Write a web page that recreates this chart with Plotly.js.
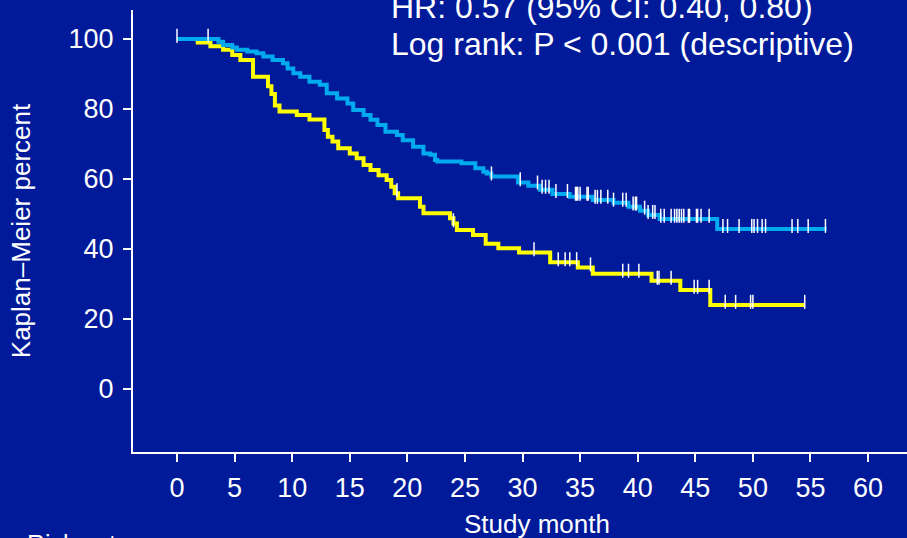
<!DOCTYPE html>
<html>
<head>
<meta charset="utf-8">
<script src="https://cdn.plot.ly/plotly-3.0.1.min.js"></script>
<style>
  html, body { margin: 0; padding: 0; background: #001a9a; }
  #chart { width: 907px; height: 538px; }
</style>
</head>
<body>
<div id="chart"></div>
<script>
// ---- Data ----
const yellowTimes = [0, 1.8, 2.9, 4.0, 4.8, 5.5, 6.6, 7.9, 8.2, 8.5, 8.9, 10.4, 11.5, 12.8, 13.1, 13.5, 14.0, 15.0, 15.6, 16.2, 16.8, 17.5, 18.2, 18.6, 18.9, 19.2, 21.1, 21.4, 23.7, 24.0, 24.3, 25.7, 26.8, 27.9, 29.7, 32.4, 34.8, 36.1, 41.2, 43.7, 46.3, 54.5];
const yellowSurv  = [100, 99.0, 97.9, 96.9, 95.4, 94.0, 89.2, 86.5, 84.3, 81.0, 79.3, 78.3, 77.0, 74.0, 72.1, 70.7, 68.8, 67.3, 65.9, 64.0, 62.6, 61.1, 59.7, 57.8, 55.9, 54.5, 52.1, 50.2, 48.8, 47.3, 45.4, 44.0, 41.5, 40.2, 39.0, 36.2, 34.7, 32.9, 30.9, 28.3, 24.0, 24.0];
const yellowCensor = [19.1, 24.0, 31.0, 33.1, 33.7, 34.1, 34.7, 35.9, 38.7, 39.2, 40.1, 41.7, 41.85, 42.9, 44.9, 45.2, 46.2, 47.6, 48.5, 49.8, 50.0, 54.5];

const blueTimes = [0, 3.6, 4.0, 4.8, 5.2, 6.1, 6.9, 7.5, 8.3, 9.2, 9.6, 10.1, 10.7, 11.5, 12.4, 13.0, 13.9, 14.8, 15.3, 16.2, 16.8, 17.4, 18.1, 19.1, 19.6, 20.5, 21.4, 22.0, 22.4, 22.6, 24.7, 25.9, 26.6, 26.9, 27.3, 29.6, 30.5, 31.5, 32.6, 34.1, 36.1, 37.9, 39.2, 40.2, 40.9, 41.9, 46.9, 56.4];
const blueSurv  = [100, 99.2, 98.3, 97.6, 96.9, 96.4, 95.9, 95.0, 94.0, 93.1, 91.6, 90.2, 89.2, 87.8, 86.9, 84.5, 83.0, 81.6, 79.7, 78.3, 76.9, 75.4, 73.5, 72.6, 71.1, 69.2, 67.3, 66.9, 65.4, 65.0, 64.5, 63.1, 62.1, 61.6, 60.7, 59.0, 58.1, 56.9, 55.7, 54.9, 54.0, 53.2, 52.1, 50.9, 49.7, 48.6, 45.7, 45.7];
const blueCensor = [0, 2.7, 27.3, 29.8, 31.3, 31.7, 32.0, 32.3, 32.9, 33.9, 34.6, 34.7, 34.8, 35.0, 35.6, 35.7, 36.3, 36.5, 36.8, 37.4, 37.9, 38.7, 39.0, 39.6, 39.8, 39.9, 40.6, 40.9, 41.3, 41.5, 42.0, 42.3, 42.9, 43.2, 43.4, 43.6, 43.8, 44.0, 44.4, 44.5, 45.1, 45.2, 45.5, 46.2, 47.4, 47.8, 48.8, 49.9, 50.1, 50.4, 50.8, 51.1, 53.4, 53.9, 54.8, 56.3];

const xTickVals = [0, 5, 10, 15, 20, 25, 30, 35, 40, 45, 50, 55, 60];
const yTickVals = [0, 20, 40, 60, 80, 100];

const hrText = "HR: 0.57 (95% CI: 0.40, 0.80)";
const logRankText = "Log rank: P < 0.001 (descriptive)";
const xTitle = "Study month";
const yTitle = "Kaplan\u2013Meier percent";
const riskSetText = "Risk set";

// ---- helpers ----
function stepValue(times, surv, t) {
  let v = surv[0];
  for (let i = 0; i < times.length; i++) {
    if (times[i] <= t) v = surv[i]; else break;
  }
  return v;
}
const tickLift = 0.9; // small lift so censor ticks sit on top of the line
function censorY(times, surv, cens) {
  return cens.map(t => stepValue(times, surv, t) + tickLift);
}

const FONT = "Liberation Sans, Arial, sans-serif";
const BG = "#001a9a";
const YELLOW = "#ffff00";
const BLUE = "#00aaee";

const traces = [
  { x: yellowTimes, y: yellowSurv, mode: "lines", line: { shape: "hv", color: YELLOW, width: 4 }, hoverinfo: "skip" },
  { x: blueTimes, y: blueSurv, mode: "lines", line: { shape: "hv", color: BLUE, width: 4 }, hoverinfo: "skip" },
  { x: yellowCensor, y: censorY(yellowTimes, yellowSurv, yellowCensor), mode: "markers",
    marker: { symbol: "line-ns-open", size: 10, color: "#ffffff", line: { color: "#ffffff", width: 1.5 } }, hoverinfo: "skip" },
  { x: blueCensor, y: censorY(blueTimes, blueSurv, blueCensor), mode: "markers",
    marker: { symbol: "line-ns-open", size: 10, color: "#ffffff", line: { color: "#ffffff", width: 1.5 } }, hoverinfo: "skip" }
];

const layout = {
  width: 907, height: 538,
  paper_bgcolor: BG, plot_bgcolor: BG,
  margin: { l: 133, r: 0, t: 10, b: 86 },
  showlegend: false,
  font: { family: FONT, color: "#ffffff", size: 26 },
  xaxis: {
    range: [-3.82, 63.38], tickvals: xTickVals, ticktext: xTickVals.map(String),
    ticks: "outside", ticklen: 8, tickwidth: 2, tickcolor: "#ffffff",
    showline: true, linecolor: "#ffffff", linewidth: 2,
    showgrid: false, zeroline: false, automargin: false,
    ticklabelstandoff: 3,
    tickfont: { family: FONT, size: 27, color: "#ffffff" }
  },
  yaxis: {
    range: [-18, 108.29], tickvals: yTickVals, ticktext: yTickVals.map(String),
    ticks: "outside", ticklen: 8, tickwidth: 2, tickcolor: "#ffffff",
    showline: true, linecolor: "#ffffff", linewidth: 2,
    showgrid: false, zeroline: false, automargin: false,
    ticklabelstandoff: 4,
    tickfont: { family: FONT, size: 27, color: "#ffffff" },
    title: { text: yTitle, font: { family: FONT, size: 26, color: "#ffffff" }, standoff: 30 }
  },
  annotations: [
    { text: hrText, xref: "paper", yref: "paper", x: 0.3305, y: 1.0068, xanchor: "left", yanchor: "middle",
      showarrow: false, font: { family: FONT, size: 32, color: "#ffffff" } },
    { text: logRankText, xref: "paper", yref: "paper", x: 0.3305, y: 0.923, xanchor: "left", yanchor: "middle",
      showarrow: false, font: { family: FONT, size: 32, color: "#ffffff" } },
    { text: xTitle, xref: "paper", yref: "paper", x: 0.522, y: -0.163, xanchor: "center", yanchor: "middle",
      showarrow: false, font: { family: FONT, size: 26, color: "#ffffff" } },
    { text: riskSetText, xref: "paper", yref: "paper", x: -0.139, y: -0.172, xanchor: "left", yanchor: "top",
      showarrow: false, font: { family: FONT, size: 25, color: "#ffffff" } }
  ]
};

Plotly.newPlot("chart", traces, layout, { staticPlot: true, displayModeBar: false });
</script>
</body>
</html>
